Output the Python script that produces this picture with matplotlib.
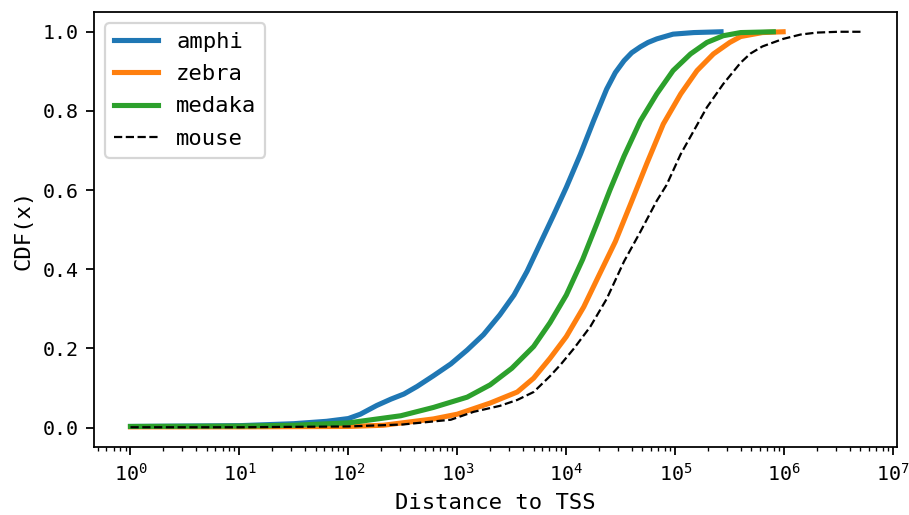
import numpy as np
import matplotlib
matplotlib.use("Agg")
import matplotlib.pyplot as plt

# ---------- data (distance in bp) ----------
amphi_logx = [0.0, 1.0, 1.5, 1.8, 2.0, 2.11, 2.26, 2.39, 2.51, 2.63, 2.78, 2.94,
              3.09, 3.24, 3.39, 3.52, 3.64, 3.76, 3.88, 4.0, 4.13, 4.25, 4.37,
              4.45, 4.53, 4.6, 4.68, 4.75, 4.83, 4.98, 5.17, 5.42]
amphi_cdf = [0.003, 0.005, 0.01, 0.016, 0.023, 0.034, 0.056, 0.072, 0.085, 0.104,
             0.131, 0.161, 0.196, 0.235, 0.285, 0.335, 0.395, 0.465, 0.535, 0.607,
             0.691, 0.775, 0.855, 0.897, 0.927, 0.947, 0.962, 0.973, 0.982, 0.994,
             0.998, 1.0]

zebra_logx = [0.0, 1.0, 2.0, 2.32, 2.78, 3.0, 3.3, 3.55, 3.7, 3.85, 4.0, 4.16,
              4.3, 4.45, 4.59, 4.74, 4.89, 5.05, 5.2, 5.35, 5.5, 5.6, 5.8, 5.99]
zebra_cdf = [0.002, 0.002, 0.003, 0.006, 0.022, 0.034, 0.062, 0.09, 0.125, 0.175,
             0.23, 0.305, 0.385, 0.47, 0.565, 0.668, 0.767, 0.843, 0.902, 0.944,
             0.973, 0.988, 0.998, 1.0]

medaka_logx = [0.0, 1.0, 1.5, 2.0, 2.48, 2.78, 3.09, 3.3, 3.5, 3.7, 3.85, 4.0,
               4.15, 4.28, 4.4, 4.53, 4.68, 4.83, 4.98, 5.14, 5.29, 5.44, 5.6, 5.9]
medaka_cdf = [0.003, 0.004, 0.006, 0.012, 0.03, 0.051, 0.077, 0.108, 0.15, 0.205,
              0.265, 0.335, 0.425, 0.515, 0.6, 0.686, 0.775, 0.843, 0.902, 0.944,
              0.973, 0.990, 0.998, 1.0]

mouse_logx = [0.0, 1.0, 2.0, 2.5, 2.94, 3.15, 3.39, 3.55, 3.7, 3.85, 3.95, 4.07,
              4.22, 4.37, 4.53, 4.68, 4.83, 4.92, 5.05, 5.17, 5.29, 5.44, 5.6,
              5.69, 5.8, 5.99, 6.15, 6.3, 6.5, 6.7]
mouse_cdf = [0.001, 0.001, 0.003, 0.008, 0.02, 0.04, 0.055, 0.07, 0.09, 0.13,
             0.16, 0.2, 0.255, 0.325, 0.42, 0.495, 0.573, 0.613, 0.691, 0.75,
             0.809, 0.868, 0.922, 0.945, 0.963, 0.982, 0.993, 0.998, 1.0, 1.0]

plt.rcParams['font.family'] = 'DejaVu Sans Mono'
plt.rcParams['font.size'] = 10

fig, ax = plt.subplots(figsize=(909 / 160, 515 / 160), dpi=160)
fig.subplots_adjust(left=0.1034, right=0.9868, top=0.9767, bottom=0.132)

ax.plot(10 ** np.array(amphi_logx), amphi_cdf, color='#1f77b4', lw=2.3, label='amphi')
ax.plot(10 ** np.array(zebra_logx), zebra_cdf, color='#ff7f0e', lw=2.3, label='zebra')
ax.plot(10 ** np.array(medaka_logx), medaka_cdf, color='#2ca02c', lw=2.3, label='medaka')
ax.plot(10 ** np.array(mouse_logx), mouse_cdf, 'k--', lw=1, label='mouse')

ax.set_xscale('log')
ax.set_xticks(10.0 ** np.arange(0, 8))
ax.set_xlabel('Distance to TSS')
ax.set_ylabel('CDF(x)')
ax.tick_params(labelsize=9)
ax.legend(loc='upper left', labelspacing=0.55)

fig.savefig('out.png', dpi=160)
